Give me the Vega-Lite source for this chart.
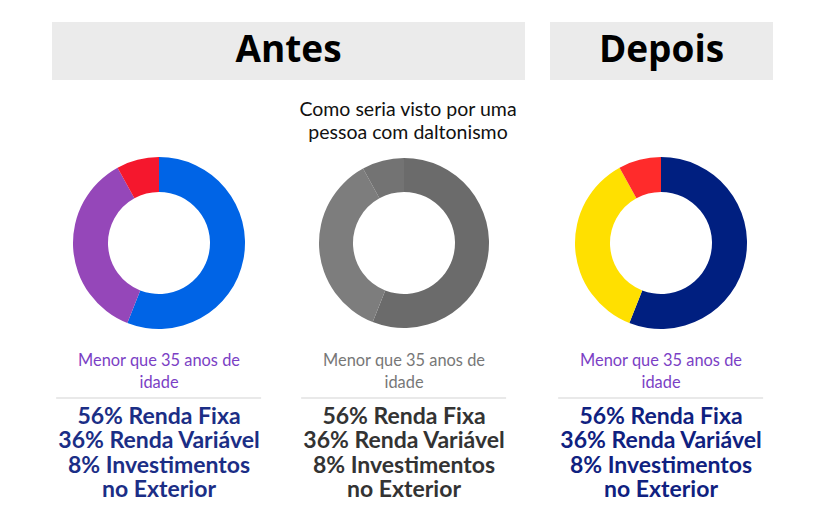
{
  "$schema": "https://vega.github.io/schema/vega-lite/v6.json",
  "padding": {"left": 52, "top": 22, "right": 0, "bottom": 0},
  "background": "white",
  "config": {"view": {"stroke": null}, "font": "Lato"},
  "datasets": {
    "alocacao": [
      {"categoria": "Renda Fixa", "percentual": 56, "ordem": 1},
      {"categoria": "Renda Variável", "percentual": 36, "ordem": 2},
      {"categoria": "Investimentos no Exterior", "percentual": 8, "ordem": 3}
    ],
    "antes": [{"titulo": "Antes"}],
    "depois": [{"titulo": "Depois"}],
    "nota": [{"texto": "Como seria visto por uma\npessoa com daltonismo"}],
    "vazio": [{"texto": ""}],
    "grupo": [{"texto": "Menor que 35 anos de\nidade"}],
    "resumo": [{"texto": "56% Renda Fixa\n36% Renda Variável\n8% Investimentos\nno Exterior"}],
    "separador": [{"linha": "separador"}]
  },
  "spacing": 0,
  "resolve": {"scale": {"color": "independent"}},
  "vconcat": [
    {
      "spacing": 25,
      "hconcat": [
        {
          "width": 473, "height": 58,
          "view": {"fill": "#ebebeb", "stroke": null},
          "data": {"name": "antes"},
          "mark": {"type": "text", "font": "Open Sans", "fontSize": 37, "fontWeight": "bold", "color": "#000000", "baseline": "middle", "dy": 0},
          "encoding": {"text": {"field": "titulo"}}
        },
        {
          "width": 223, "height": 58,
          "view": {"fill": "#ebebeb", "stroke": null},
          "data": {"name": "depois"},
          "mark": {"type": "text", "font": "Open Sans", "fontSize": 37, "fontWeight": "bold", "color": "#000000", "baseline": "middle", "dy": 0},
          "encoding": {"text": {"field": "titulo"}}
        }
      ]
    },
    {
      "spacing": 20,
      "resolve": {"scale": {"color": "independent"}},
      "hconcat": [
        {
          "spacing": 0, "center": true,
          "vconcat": [
            {"width": 214, "height": 77, "data": {"name": "vazio"}, "mark": {"type": "text"}, "encoding": {"text": {"field": "texto"}}},
            {"width": 214, "height": 172, "data": {"name": "alocacao"},
             "mark": {"type": "arc", "innerRadius": 51, "outerRadius": 86},
             "encoding": {
               "theta": {"field": "percentual", "type": "quantitative", "stack": true},
               "order": {"field": "ordem", "type": "quantitative"},
               "color": {"field": "categoria", "type": "nominal", "legend": null,
                 "scale": {"domain": ["Renda Fixa", "Renda Variável", "Investimentos no Exterior"], "range": ["#0064E6", "#9547B9", "#F5172D"]}}
             }},
            {"width": 214, "height": 68, "data": {"name": "grupo"},
             "mark": {"type": "text", "fontSize": 16.4, "color": "#7B3FC5", "lineBreak": "\n", "lineHeight": 22, "baseline": "middle", "dy": -2},
             "encoding": {"text": {"field": "texto"}}},
            {"width": 205, "height": 1, "data": {"name": "separador"},
             "mark": {"type": "rule", "color": "#e2e2e2", "strokeWidth": 1.5},
             "encoding": {"y": {"value": 0}}},
            {"width": 214, "height": 36, "data": {"name": "resumo"},
             "mark": {"type": "text", "fontSize": 23, "fontWeight": "bold", "color": "#1B2E86", "lineBreak": "\n", "lineHeight": 24.3, "baseline": "middle", "dy": 0},
             "encoding": {"text": {"field": "texto"}}}
          ]
        },
        {
          "spacing": 0, "center": true,
          "vconcat": [
            {"width": 236, "height": 77, "data": {"name": "nota"},
             "mark": {"type": "text", "fontSize": 19.5, "color": "#111111", "lineBreak": "\n", "lineHeight": 23, "baseline": "middle", "dy": -9, "dx": 4},
             "encoding": {"text": {"field": "texto"}}},
            {"width": 236, "height": 172, "data": {"name": "alocacao"},
             "mark": {"type": "arc", "innerRadius": 51, "outerRadius": 85},
             "encoding": {
               "theta": {"field": "percentual", "type": "quantitative", "stack": true},
               "order": {"field": "ordem", "type": "quantitative"},
               "color": {"field": "categoria", "type": "nominal", "legend": null,
                 "scale": {"domain": ["Renda Fixa", "Renda Variável", "Investimentos no Exterior"], "range": ["#6B6B6B", "#7D7D7D", "#737373"]}}
             }},
            {"width": 236, "height": 68, "data": {"name": "grupo"},
             "mark": {"type": "text", "fontSize": 16.4, "color": "#777777", "lineBreak": "\n", "lineHeight": 22, "baseline": "middle", "dy": -2},
             "encoding": {"text": {"field": "texto"}}},
            {"width": 205, "height": 1, "data": {"name": "separador"},
             "mark": {"type": "rule", "color": "#e2e2e2", "strokeWidth": 1.5},
             "encoding": {"y": {"value": 0}}},
            {"width": 236, "height": 36, "data": {"name": "resumo"},
             "mark": {"type": "text", "fontSize": 23, "fontWeight": "bold", "color": "#333333", "lineBreak": "\n", "lineHeight": 24.3, "baseline": "middle", "dy": 0},
             "encoding": {"text": {"field": "texto"}}}
          ]
        },
        {
          "spacing": 0, "center": true,
          "vconcat": [
            {"width": 238, "height": 77, "data": {"name": "vazio"}, "mark": {"type": "text"}, "encoding": {"text": {"field": "texto"}}},
            {"width": 238, "height": 172, "data": {"name": "alocacao"},
             "mark": {"type": "arc", "innerRadius": 51, "outerRadius": 86},
             "encoding": {
               "theta": {"field": "percentual", "type": "quantitative", "stack": true},
               "order": {"field": "ordem", "type": "quantitative"},
               "color": {"field": "categoria", "type": "nominal", "legend": null,
                 "scale": {"domain": ["Renda Fixa", "Renda Variável", "Investimentos no Exterior"], "range": ["#001F80", "#FFE000", "#FF2B2B"]}}
             }},
            {"width": 238, "height": 68, "data": {"name": "grupo"},
             "mark": {"type": "text", "fontSize": 16.4, "color": "#7B3FC5", "lineBreak": "\n", "lineHeight": 22, "baseline": "middle", "dy": -2},
             "encoding": {"text": {"field": "texto"}}},
            {"width": 205, "height": 1, "data": {"name": "separador"},
             "mark": {"type": "rule", "color": "#e2e2e2", "strokeWidth": 1.5},
             "encoding": {"y": {"value": 0}}},
            {"width": 238, "height": 36, "data": {"name": "resumo"},
             "mark": {"type": "text", "fontSize": 23, "fontWeight": "bold", "color": "#0F2180", "lineBreak": "\n", "lineHeight": 24.3, "baseline": "middle", "dy": 0},
             "encoding": {"text": {"field": "texto"}}}
          ]
        }
      ]
    }
  ]
}
